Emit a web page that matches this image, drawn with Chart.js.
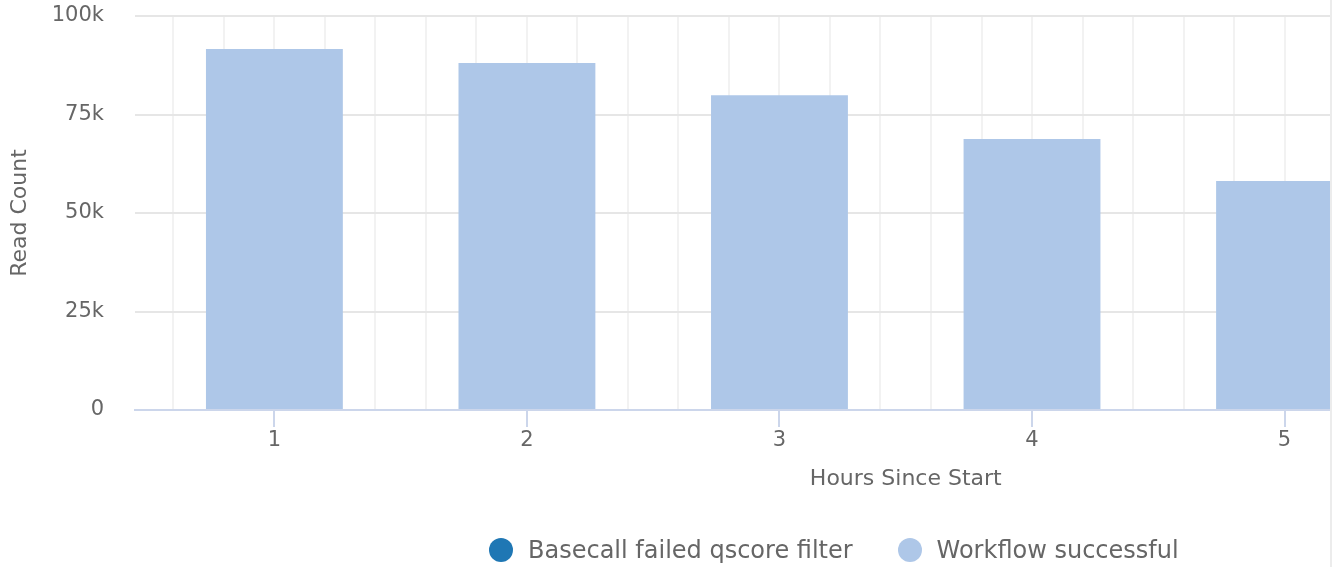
<!DOCTYPE html>
<html>
<head>
<meta charset="utf-8">
<script src="https://cdn.jsdelivr.net/npm/chart.js@4/dist/chart.umd.min.js"></script>
<style>
  html, body { margin: 0; padding: 0; background: #fff; }
  #wrap { position: relative; width: 1343px; height: 567px; overflow: hidden; }
  #edge { position: absolute; left: 1330px; top: 0; width: 2px; height: 567px; background: #ececec; }
  #legend { position: absolute; left: 489px; top: 535px; height: 30px; display: flex; gap: 45px;
            font-family: "DejaVu Sans", sans-serif; font-size: 24px; color: #666; }
  #legend span.item { display: flex; align-items: center; }
  #legend i { display: inline-block; width: 24px; height: 24px; border-radius: 50%; margin-right: 15px; }
</style>
</head>
<body>
<div id="wrap">
  <canvas id="chart" width="1343" height="567"></canvas>
  <div id="edge"></div>
  <div id="legend"></div>
</div>
<script>
const hours = [1, 2, 3, 4, 5];
const failedQscore = [0, 0, 0, 0, 0];
const workflowOk = [91600, 88100, 79900, 68800, 58100];
const yTicks = [0, 25000, 50000, 75000, 100000];
const seriesNames = ['Basecall failed qscore filter', 'Workflow successful'];
const seriesColors = ['#1f77b4', '#aec7e8'];

const FONT = '"DejaVu Sans", sans-serif';
const TEXT = '#666';

const onStep = (c, step) => {
  if (!c.tick) return false;
  const v = c.tick.value;
  return Math.abs(v / step - Math.round(v / step)) < 1e-6;
};

const noPad = s => { s.paddingTop = 0; s.paddingBottom = 0; s.paddingLeft = 0; s.paddingRight = 0; };

const xTitle = {
  id: 'xTitle',
  afterDraw(chart) {
    const { ctx, chartArea } = chart;
    ctx.save();
    ctx.font = '22px ' + FONT;
    ctx.fillStyle = TEXT;
    ctx.textAlign = 'center';
    ctx.textBaseline = 'middle';
    ctx.fillText('Hours Since Start', chartArea.left + (chartArea.right - chartArea.left) * 0.645, 479);
    ctx.restore();
  }
};

const chart = new Chart(document.getElementById('chart'), {
  type: 'bar',
  data: {
    datasets: [
      { label: seriesNames[0], data: hours.map((h, i) => ({ x: h, y: failedQscore[i] })), backgroundColor: seriesColors[0] },
      { label: seriesNames[1], data: hours.map((h, i) => ({ x: h, y: workflowOk[i] })), backgroundColor: seriesColors[1] }
    ]
  },
  options: {
    responsive: false,
    animation: false,
    layout: { padding: { left: 0, right: 13, top: 16, bottom: 0 } },
    // bar width is relative to the 0.2 grid step, bars are ~0.54 units wide
    datasets: { bar: { barPercentage: 2.71, categoryPercentage: 1 } },
    plugins: { legend: { display: false }, tooltip: { enabled: false } },
    scales: {
      x: {
        type: 'linear',
        stacked: true,
        offset: false,
        min: 0.448,
        max: 5.18,
        afterFit: s => { s.height = 157; noPad(s); },
        border: { display: true, color: '#ccd6eb', width: 2 },
        grid: {
          offset: false,
          lineWidth: 2,
          color: c => onStep(c, 0.2) ? '#f2f2f2' : 'rgba(0,0,0,0)',
          tickColor: c => onStep(c, 1) ? '#ccd6eb' : 'rgba(0,0,0,0)',
          tickLength: 17,
          tickWidth: 2
        },
        ticks: {
          stepSize: 0.2,
          includeBounds: false,
          autoSkip: false,
          maxRotation: 0,
          padding: 1,
          color: TEXT,
          font: { family: FONT, size: 21 },
          callback: v => Math.abs(v - Math.round(v)) < 1e-6 ? String(Math.round(v)) : ''
        }
      },
      y: {
        stacked: true,
        min: 0,
        max: 100000,
        afterBuildTicks: s => { s.ticks = yTicks.map(v => ({ value: v })); },
        afterFit: s => { s.width = 135; noPad(s); },
        border: { display: false },
        grid: { color: '#e6e6e6', lineWidth: 2, drawTicks: false },
        ticks: {
          padding: 31,
          color: TEXT,
          font: { family: FONT, size: 21 },
          callback: v => v === 0 ? '0' : (v / 1000) + 'k'
        },
        title: {
          display: true,
          text: 'Read Count',
          color: TEXT,
          font: { family: FONT, size: 22 },
          padding: { top: 7, bottom: 0 }
        }
      }
    }
  },
  plugins: [xTitle]
});

const legend = document.getElementById('legend');
chart.data.datasets.forEach(ds => {
  const item = document.createElement('span');
  item.className = 'item';
  item.innerHTML = `<i style="background:${ds.backgroundColor}"></i>${ds.label}`;
  legend.appendChild(item);
});
</script>
</body>
</html>
